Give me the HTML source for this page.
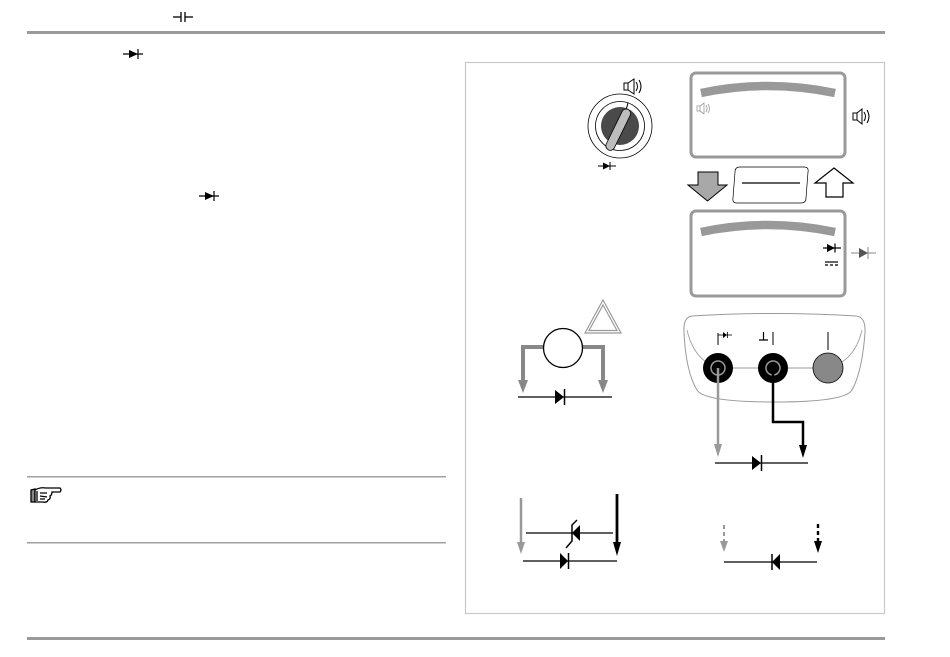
<!DOCTYPE html>
<html><head><meta charset="utf-8"><style>
html,body{margin:0;padding:0;background:#fff;}
svg{display:block;}
</style></head><body>
<svg width="950" height="657" viewBox="0 0 950 657" xmlns="http://www.w3.org/2000/svg">
<rect width="950" height="657" fill="#fff"/>
<!-- top rule -->
<rect x="27" y="31" width="858" height="3" fill="#9a9a9a"/>
<!-- bottom rule -->
<rect x="27" y="637" width="858" height="3" fill="#9a9a9a"/>
<!-- note rules -->
<rect x="27" y="476" width="419" height="1.5" fill="#a0a0a0"/>
<rect x="27" y="542" width="419" height="1.5" fill="#a0a0a0"/>

<!-- capacitor symbol -->
<g stroke="#000" stroke-width="1.3">
<line x1="173" y1="17" x2="181" y2="17"/><line x1="181" y1="12" x2="181" y2="22"/>
<line x1="185" y1="12" x2="185" y2="22"/><line x1="185" y1="17" x2="193" y2="17"/>
</g>
<!-- diode symbols in text -->
<g stroke="#000" stroke-width="1.2">
<line x1="123" y1="54" x2="143" y2="54"/><line x1="138" y1="49" x2="138" y2="59"/>
<line x1="199" y1="196" x2="219" y2="196"/><line x1="214" y1="191" x2="214" y2="201"/>
</g>
<polygon points="129,50 129,58 138,54" fill="#000"/>
<polygon points="205,192 205,200 214,196" fill="#000"/>

<!-- pointing hand -->
<g stroke="#000" stroke-width="1.3" fill="#fff">
<path d="M31 490 L35 489 L35 502 L31 502 Z" fill="#888"/>
<path d="M35 490 Q40 487 46 488 L60 488 Q62 490 60 492 L52 492 Q52 495 50 496 Q51 499 48 500 Q47 503 43 502 L35 502 Z"/>
<path d="M40 493 L47 493 M40 496 L47 497 M40 499 L45 499 M37 491 L37 501" fill="none"/>
</g>

<!-- figure frame -->
<rect x="465.5" y="62.5" width="419" height="551" fill="none" stroke="#c8c8c8" stroke-width="1.2"/>

<!-- rotary switch -->
<circle cx="620" cy="126" r="32" fill="#fff" stroke="#000" stroke-width="0.8"/>
<circle cx="620" cy="126" r="24.5" fill="#fff" stroke="#000" stroke-width="0.8"/>
<circle cx="620" cy="126" r="19" fill="#4a4a4a"/>
<line x1="628" y1="103" x2="626" y2="110" stroke="#000" stroke-width="1"/>
<g transform="rotate(26 618 129)">
<rect x="614" y="107" width="9" height="45" rx="4.5" fill="#bdbdbd" stroke="#000" stroke-width="0.8"/>
</g>
<!-- speaker above switch -->
<g fill="none" stroke="#000" stroke-width="1">
<rect x="624" y="83" width="4" height="7"/><path d="M628 83 L634 79 L634 94 L628 90"/>
<path d="M636 82 Q639 86.5 636 91"/><path d="M639 80 Q643 86.5 639 93"/>
</g>
<!-- diode below switch -->
<g stroke="#000" stroke-width="1"><line x1="598" y1="166" x2="616" y2="166"/><line x1="610" y1="162" x2="610" y2="170"/></g>
<polygon points="603,162.5 603,169.5 610,166" fill="#000"/>

<!-- top display -->
<rect x="691" y="73" width="154" height="84" rx="5" fill="#fff" stroke="#999" stroke-width="3"/>
<path d="M701 93 Q768 79 835 93" fill="none" stroke="#999" stroke-width="8.5"/>
<g fill="none" stroke="#999" stroke-width="0.8">
<rect x="697" y="106" width="3" height="5"/><path d="M700 106 L704 103 L704 114 L700 111"/>
<path d="M706 105 Q708 108.5 706 112"/><path d="M708 104 Q711 108.5 708 113"/>
</g>
<!-- speaker right -->
<g fill="none" stroke="#000" stroke-width="1">
<rect x="853" y="113" width="4" height="7"/><path d="M857 113 L862 109 L862 124 L857 120"/>
<path d="M864 112 Q867 116.5 864 121"/><path d="M867 110 Q871 116.5 867 123"/>
</g>

<!-- down arrow gray -->
<polygon points="698,172 718,172 718,185 727,185 707.5,201 688,185 698,185" fill="#a8a8a8" stroke="#000" stroke-width="1"/>
<!-- middle box -->
<path d="M740 167 L804 167 Q809 167 808 172 L806 198 Q806 203 801 203 L737 203 Q732 203 733 198 L735 172 Q735 167 740 167 Z" fill="#fff" stroke="#000" stroke-width="0.7"/>
<line x1="742" y1="183" x2="800" y2="183" stroke="#000" stroke-width="1.3"/>
<!-- up arrow outline -->
<polygon points="834,168 853,183 843,183 843,197 826,197 826,183 815,183" fill="#fff" stroke="#000" stroke-width="1.2"/>

<!-- bottom display -->
<rect x="691" y="211" width="154" height="85" rx="5" fill="#fff" stroke="#999" stroke-width="3"/>
<path d="M701 232 Q768 218 835 232" fill="none" stroke="#999" stroke-width="8.5"/>
<g stroke="#000" stroke-width="1.2"><line x1="823" y1="248" x2="841" y2="248"/><line x1="835" y1="243.5" x2="835" y2="252.5"/></g>
<polygon points="827,244 827,252 835,248" fill="#000"/>
<line x1="825" y1="262" x2="838" y2="262" stroke="#000" stroke-width="1.2"/>
<line x1="825" y1="265" x2="838" y2="265" stroke="#000" stroke-width="1.2" stroke-dasharray="3 2"/>
<!-- diode right gray -->
<g stroke="#888" stroke-width="1"><line x1="851" y1="253" x2="876" y2="253"/><line x1="868" y1="247" x2="868" y2="259"/></g>
<polygon points="859,248 859,258 868,253" fill="#555"/>

<!-- left diode test circuit -->
<polygon points="603,300 621,333 585,333" fill="#fff" stroke="#999" stroke-width="1.2"/>
<polygon points="603,305 617,330.5 589,330.5" fill="none" stroke="#999" stroke-width="1.2"/>
<path d="M544 347 L523 347 L523 382" fill="none" stroke="#888" stroke-width="4"/>
<path d="M582 347 L603 347 L603 382" fill="none" stroke="#888" stroke-width="4"/>
<polygon points="518,380 528,380 523,393" fill="#888"/>
<polygon points="598,380 608,380 603,393" fill="#888"/>
<circle cx="563" cy="348" r="19.5" fill="#fff" stroke="#000" stroke-width="1.3"/>
<line x1="518" y1="397" x2="612" y2="397" stroke="#000" stroke-width="1.2"/>
<polygon points="555,390 555,404 564,397" fill="#000"/>
<line x1="564.5" y1="389" x2="564.5" y2="405" stroke="#000" stroke-width="1.5"/>

<!-- jack panel -->
<path d="M692 316 Q775 311 856 316 Q866 317 865 333 Q862 372 852 390 Q845 402 775 402 Q704 402 697 390 Q686 372 684 333 Q683 317 692 316 Z" fill="#fff" stroke="#999" stroke-width="1"/>
<path d="M687 330 Q692 352 706 362" fill="none" stroke="#999" stroke-width="0.8"/>
<path d="M862 330 Q857 352 842 362" fill="none" stroke="#999" stroke-width="0.8"/>
<line x1="718" y1="368" x2="828" y2="368" stroke="#999" stroke-width="1"/>
<circle cx="718" cy="368" r="15" fill="#000"/>
<circle cx="718" cy="368" r="7" fill="none" stroke="#999" stroke-width="1.5"/>
<circle cx="773" cy="368" r="15" fill="#000"/>
<circle cx="773" cy="368" r="7" fill="none" stroke="#999" stroke-width="1.5"/>
<circle cx="828" cy="368" r="15" fill="#888" stroke="#000" stroke-width="0.8"/>
<!-- jack labels -->
<line x1="718" y1="333" x2="718" y2="345" stroke="#000" stroke-width="1"/>
<line x1="718" y1="335" x2="732" y2="335" stroke="#000" stroke-width="0.8"/>
<polygon points="723,332 723,338 727,335" fill="#000"/>
<line x1="727.5" y1="332" x2="727.5" y2="338" stroke="#000" stroke-width="0.8"/>
<path d="M759 340 L768 340 M763.5 332 L763.5 340" stroke="#000" stroke-width="1.2" fill="none"/>
<line x1="773" y1="332" x2="773" y2="345" stroke="#000" stroke-width="1"/>
<line x1="828" y1="332" x2="828" y2="350" stroke="#000" stroke-width="1"/>
<!-- probe wires -->
<line x1="718" y1="368" x2="718" y2="446" stroke="#999" stroke-width="2.5"/>
<polygon points="714,444 722,444 718,457" fill="#999"/>
<path d="M773 368 L773 422 L803 422 L803 447" fill="none" stroke="#000" stroke-width="2.5"/>
<polygon points="799,445 807,445 803,458" fill="#000"/>
<line x1="715" y1="463" x2="808" y2="463" stroke="#000" stroke-width="1.2"/>
<polygon points="752,456 752,470 761,463" fill="#000"/>
<line x1="761.5" y1="455" x2="761.5" y2="471" stroke="#000" stroke-width="1.5"/>

<!-- bottom-left zener circuit -->
<line x1="521" y1="498" x2="521" y2="544" stroke="#999" stroke-width="2.5"/>
<polygon points="517,542 525,542 521,554" fill="#999"/>
<line x1="617" y1="494" x2="617" y2="544" stroke="#000" stroke-width="2.8"/>
<polygon points="613,542 621,542 617,556" fill="#000"/>
<line x1="526" y1="533" x2="613" y2="533" stroke="#000" stroke-width="1.2"/>
<polygon points="580,525 580,541 572,533" fill="#000"/>
<path d="M577 520 L572 525 L572 541 L566 548" fill="none" stroke="#000" stroke-width="1.5"/>
<line x1="523" y1="561" x2="617" y2="561" stroke="#000" stroke-width="1.2"/>
<polygon points="560,553 560,569 568,561" fill="#000"/>
<line x1="568.5" y1="553" x2="568.5" y2="569" stroke="#000" stroke-width="1.5"/>

<!-- bottom-right reverse diode -->
<line x1="724" y1="525" x2="724" y2="544" stroke="#999" stroke-width="2" stroke-dasharray="4 3"/>
<polygon points="720,541 728,541 724,552" fill="#999"/>
<line x1="818" y1="524" x2="818" y2="544" stroke="#000" stroke-width="2.4" stroke-dasharray="4 3"/>
<polygon points="814,541 822,541 818,553" fill="#000"/>
<line x1="724" y1="562" x2="817" y2="562" stroke="#000" stroke-width="1.2"/>
<polygon points="780,554 780,570 772,562" fill="#000"/>
<line x1="772" y1="554" x2="772" y2="570" stroke="#000" stroke-width="1.5"/>
</svg>
</body></html>
